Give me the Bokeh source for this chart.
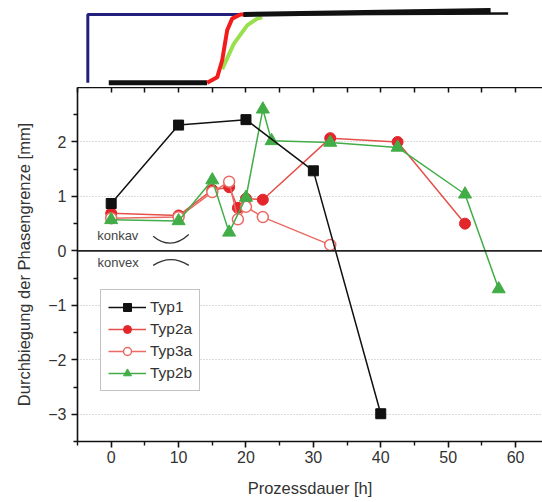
from bokeh.plotting import figure
from bokeh.models import (LinearAxis, FixedTicker, Span, Legend, LegendItem, Range1d, Title)
from bokeh.layouts import column
from bokeh.core.properties import value
from bokeh.embed import file_html
from bokeh.resources import INLINE

# ---------------- data ----------------
typ1_x = [0, 10, 20, 30, 40]
typ1_y = [0.87, 2.31, 2.41, 1.47, -2.99]

typ2a_x = [0, 10, 15, 17.5, 18.8, 20, 22.5, 32.5, 42.5, 52.5]
typ2a_y = [0.69, 0.65, 1.12, 1.17, 0.79, 0.96, 0.94, 2.07, 2.0, 0.5]

typ3a_x = [0, 10, 15, 17.5, 18.8, 20, 22.5, 32.5]
typ3a_y = [0.6, 0.62, 1.08, 1.27, 0.58, 0.81, 0.62, 0.11]

typ2b_x = [0, 10, 15, 17.5, 20, 22.5, 23.8, 32.5, 42.5, 52.5, 57.5]
typ2b_y = [0.57, 0.55, 1.3, 0.34, 0.98, 2.6, 2.02, 1.99, 1.9, 1.04, -0.7]

x_major = [0, 10, 20, 30, 40, 50, 60]
x_minor = [-5, 5, 15, 25, 35, 45, 55]
y_major = [-3, -2, -1, 0, 1, 2]
y_minor = [-3.5, -2.5, -1.5, -0.5, 0.5, 1.5, 2.5]

# schematic process profile above the chart (relative level 0..1)
blue_x = [-3.47, -3.47, 19.63]
blue_y = [0.0, 1.0, 1.0]
base_x = [-0.36, 14.24]
base_y = [0.0, 0.0]
red_x = [14.24, 15.73, 16.47, 17.21, 17.95, 19.18, 19.8]
red_y = [0.0, 0.08, 0.33, 0.77, 0.94, 1.0, 1.0]
green_x = [16.47, 18.19, 20.18, 21.66, 22.4]
green_y = [0.2, 0.57, 0.84, 0.94, 0.96]
top_thick_x = [19.63, 56.3]
top_thick_y = [1.0, 1.06]
top_thin_x = [19.63, 58.9]
top_thin_y = [1.0, 1.015]

konkav_x = [6.23, 11.51]
konkav_y = [0.27, 0.30]
konkav_cy = 0.0
konvex_x = [6.23, 11.51]
konvex_y = [-0.266, -0.266]
konvex_cy = -0.054

FONT = "Liberation Sans"
TXT = "#333333"

# ---------------- main figure ----------------
p = figure(width=542, height=415, output_backend="svg", toolbar_location=None,
           x_range=Range1d(-5, 64), y_range=Range1d(-3.5, 3.0),
           x_axis_location=None, y_axis_location=None,
           min_border_left=77, min_border_right=0, min_border_top=0, min_border_bottom=61)
p.outline_line_color = None
p.background_fill_color = "white"
p.border_fill_color = "white"

xax = LinearAxis(ticker=FixedTicker(ticks=x_major, minor_ticks=x_minor),
                 axis_label="Prozessdauer [h]")
yax = LinearAxis(ticker=FixedTicker(ticks=y_major, minor_ticks=y_minor))
# top frame line with inward ticks only (no labels)
tax = LinearAxis(ticker=FixedTicker(ticks=[], minor_ticks=x_major + x_minor))

for ax in (xax, yax, tax):
    ax.axis_line_color = "#111111"
    ax.axis_line_width = 1.6
    ax.major_tick_line_color = "#111111"
    ax.minor_tick_line_color = "#111111"
    ax.major_tick_line_width = 1.6
    ax.minor_tick_line_width = 1.4
    ax.major_label_text_font = FONT
    ax.major_label_text_font_size = "16px"
    ax.major_label_text_color = TXT
    ax.axis_label_text_font = FONT
    ax.axis_label_text_font_size = "16.5px"
    ax.axis_label_text_font_style = "normal"
    ax.axis_label_text_color = TXT

xax.major_tick_out = 6
xax.major_tick_in = 0
xax.minor_tick_out = 4
xax.minor_tick_in = 0
xax.major_label_standoff = 3
xax.axis_label_standoff = 13

yax.major_tick_out = 6
yax.major_tick_in = 0
yax.minor_tick_out = 4
yax.minor_tick_in = 0
yax.major_label_standoff = 5

tax.major_tick_out = 0
tax.major_tick_in = 0
tax.minor_tick_out = 0
tax.minor_tick_in = 5
tax.minor_tick_line_width = 1.5

p.add_layout(xax, "below")
p.add_layout(yax, "left")
p.add_layout(tax, "above")

# y-axis title (as a side title so it can be shifted up like in the reference)
ytitle = Title(text="Durchbiegung der Phasengrenze [mm]", align="center", offset=24,
               standoff=25, text_font=FONT, text_font_size="16.5px",
               text_font_style="normal", text_color=TXT)
p.add_layout(ytitle, "left")

p.xgrid.visible = False
p.ygrid.ticker = FixedTicker(ticks=y_major)
p.ygrid.grid_line_color = "#b8b8b8"
p.ygrid.grid_line_dash = "1 2"
p.ygrid.grid_line_width = 1

p.add_layout(Span(location=0, dimension="width", line_color="#222222", line_width=1.6))

# concave / convex markers
p.quadratic(x0=[konkav_x[0]], y0=[konkav_y[0]], x1=[konkav_x[1]], y1=[konkav_y[1]],
            cx=[(konkav_x[0] + konkav_x[1]) / 2], cy=[konkav_cy],
            line_color="#333333", line_width=1.3)
p.quadratic(x0=[konvex_x[0]], y0=[konvex_y[0]], x1=[konvex_x[1]], y1=[konvex_y[1]],
            cx=[(konvex_x[0] + konvex_x[1]) / 2], cy=[konvex_cy],
            line_color="#333333", line_width=1.3)
p.text(x=[-2.08], y=[0.28], text=["konkav"], text_font=value(FONT),
       text_font_size="13px", text_color="#444444", text_baseline="middle")
p.text(x=[-2.03], y=[-0.22], text=["konvex"], text_font=value(FONT),
       text_font_size="13px", text_color="#444444", text_baseline="middle")

RED = "#e3262b"
RED_L = "#e6504b"
RED_O = "#ec6a64"
GREEN = "#42ad47"
BLACK = "#111111"

l2a = p.line(typ2a_x, typ2a_y, line_color=RED_L, line_width=1.5)
s2a = p.scatter(typ2a_x, typ2a_y, marker="circle", size=11, fill_color=RED, line_color=RED)
l3a = p.line(typ3a_x, typ3a_y, line_color=RED_O, line_width=1.5)
s3a = p.scatter(typ3a_x, typ3a_y, marker="circle", size=11, fill_color="white",
                line_color=RED_O, line_width=1.5)
l2b = p.line(typ2b_x, typ2b_y, line_color=GREEN, line_width=1.5)
s2b = p.scatter(typ2b_x, typ2b_y, marker="triangle", size=13, fill_color=GREEN, line_color=GREEN)
l1 = p.line(typ1_x, typ1_y, line_color=BLACK, line_width=1.5)
s1 = p.scatter(typ1_x, typ1_y, marker="square", size=10, fill_color=BLACK, line_color=BLACK)

legend = Legend(items=[
    LegendItem(label="Typ1", renderers=[l1, s1]),
    LegendItem(label="Typ2a", renderers=[l2a, s2a]),
    LegendItem(label="Typ3a", renderers=[l3a, s3a]),
    LegendItem(label="Typ2b", renderers=[l2b, s2b]),
], location=(23, 50))
legend.label_text_font = FONT
legend.label_text_font_size = "15.5px"
legend.label_text_color = TXT
legend.glyph_width = 38
legend.glyph_height = 20
legend.label_height = 20
legend.spacing = 2
legend.padding = 7
legend.margin = 0
legend.label_standoff = 4
legend.border_line_color = "#888888"
legend.border_line_width = 1
legend.background_fill_alpha = 1
p.add_layout(legend, "center")

# ---------------- schematic above ----------------
top = figure(width=542, height=87, output_backend="svg", toolbar_location=None,
             x_range=p.x_range, y_range=Range1d(-0.069, 1.205),
             x_axis_location=None, y_axis_location=None,
             min_border_left=77, min_border_right=0, min_border_top=0, min_border_bottom=0)
top.outline_line_color = None
top.xgrid.visible = False
top.ygrid.visible = False
top.line(blue_x, blue_y, line_color="#22207a", line_width=3)
top.line(base_x, base_y, line_color=BLACK, line_width=5)
top.line(green_x, green_y, line_color="#9ae04e", line_width=4)
top.line(red_x, red_y, line_color="#f21c1c", line_width=4)
top.line(top_thin_x, top_thin_y, line_color=BLACK, line_width=2.5)
top.line(top_thick_x, top_thick_y, line_color=BLACK, line_width=5)

layout = column(top, p, spacing=0)
open("out.html", "w").write(file_html(layout, INLINE))
